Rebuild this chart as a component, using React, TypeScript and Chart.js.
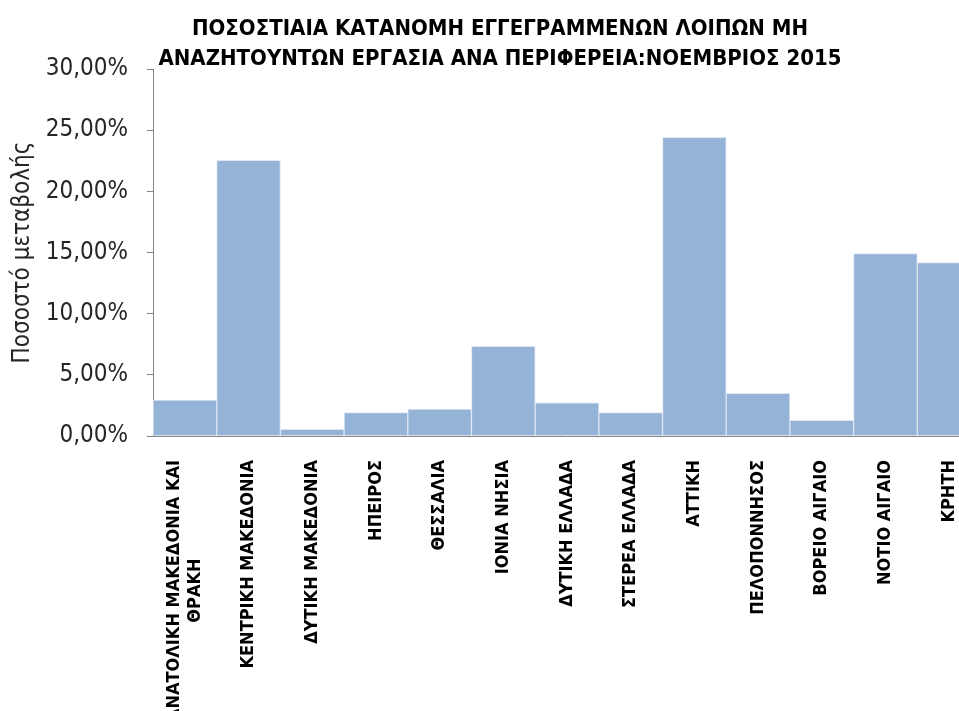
import React, { useEffect, useRef } from "react";
import { Chart, registerables } from "chart.js";

Chart.register(...registerables);

const titleLines = [
  "ΠΟΣΟΣΤΙΑΙΑ ΚΑΤΑΝΟΜΗ ΕΓΓΕΓΡΑΜΜΕΝΩΝ ΛΟΙΠΩΝ ΜΗ",
  "ΑΝΑΖΗΤΟΥΝΤΩΝ ΕΡΓΑΣΙΑ ΑΝΑ ΠΕΡΙΦΕΡΕΙΑ:ΝΟΕΜΒΡΙΟΣ 2015",
];
const yAxisTitle = "Ποσοστό μεταβολής";
const regions: string[][] = [
  ["ΑΝΑΤΟΛΙΚΗ ΜΑΚΕΔΟΝΙΑ ΚΑΙ", "ΘΡΑΚΗ"],
  ["ΚΕΝΤΡΙΚΗ ΜΑΚΕΔΟΝΙΑ"],
  ["ΔΥΤΙΚΗ ΜΑΚΕΔΟΝΙΑ"],
  ["ΗΠΕΙΡΟΣ"],
  ["ΘΕΣΣΑΛΙΑ"],
  ["ΙΟΝΙΑ ΝΗΣΙΑ"],
  ["ΔΥΤΙΚΗ ΕΛΛΑΔΑ"],
  ["ΣΤΕΡΕΑ ΕΛΛΑΔΑ"],
  ["ΑΤΤΙΚΗ"],
  ["ΠΕΛΟΠΟΝΝΗΣΟΣ"],
  ["ΒΟΡΕΙΟ ΑΙΓΑΙΟ"],
  ["ΝΟΤΙΟ ΑΙΓΑΙΟ"],
  ["ΚΡΗΤΗ"],
];
const shares = [2.94, 22.54, 0.55, 1.91, 2.21, 7.33, 2.72, 1.91, 24.42, 3.49, 1.28, 14.91, 14.17];
const yMin = 0;
const yMax = 30;
const yStep = 5;

const CANVAS_W = 981;
const CANVAS_H = 760;
const PLOT_LEFT = 153;
const PLOT_TOP = 69;
const PLOT_BOTTOM = 436;
const FONT = "'DejaVu Sans Condensed', 'DejaVu Sans', 'Noto Sans', sans-serif";
const LABEL_FONT_SIZE = 18;
const LABEL_GAP = 24;

const titlePlugin = {
  id: "twoLineTitle",
  afterDraw(chart: any) {
    const ctx = chart.ctx;
    ctx.save();
    ctx.fillStyle = "#000000";
    ctx.font = `bold 22px ${FONT}`;
    ctx.textAlign = "center";
    ctx.textBaseline = "alphabetic";
    ctx.fillText(titleLines[0], 500, 35);
    ctx.fillText(titleLines[1], 500, 65);
    ctx.restore();
  },
};

const categoryLabelPlugin = {
  id: "categoryLabels",
  afterDraw(chart: any) {
    const scale = chart.scales.x;
    const ctx = chart.ctx;
    const lineHeight = LABEL_FONT_SIZE * 1.2;
    ctx.save();
    ctx.fillStyle = "#000000";
    ctx.font = `bold ${LABEL_FONT_SIZE}px ${FONT}`;
    ctx.textAlign = "center";
    ctx.textBaseline = "middle";
    const top = scale.top + LABEL_GAP;
    regions.forEach((lines, i) => {
      const x = scale.getPixelForTick(i);
      const widest = Math.max(...lines.map((l) => ctx.measureText(l).width));
      const n = lines.length;
      lines.forEach((line, j) => {
        ctx.save();
        ctx.translate(x + (j - (n - 1) / 2) * lineHeight, top + widest / 2);
        ctx.rotate(-Math.PI / 2);
        ctx.fillText(line, 0, 0);
        ctx.restore();
      });
    });
    ctx.restore();
  },
};

export default function App() {
  const ref = useRef<HTMLCanvasElement | null>(null);
  useEffect(() => {
    if (!ref.current) return;
    const chart = new Chart(ref.current, {
      type: "bar",
      data: {
        labels: regions.map((l) => l.join(" ")),
        datasets: [
          {
            data: shares,
            backgroundColor: "#95B3D7",
            borderColor: "#DCE6F2",
            borderWidth: 1,
            categoryPercentage: 1,
            barPercentage: 1,
          },
        ],
      },
      options: {
        animation: false,
        responsive: false,
        devicePixelRatio: 1,
        layout: { padding: { top: PLOT_TOP, left: 0, right: 0, bottom: 0 } },
        plugins: { legend: { display: false }, tooltip: { enabled: false }, title: { display: false } },
        scales: {
          x: {
            grid: { display: true, drawOnChartArea: false, drawTicks: false },
            border: { display: true, color: "#868686", width: 1 },
            ticks: { display: false, autoSkip: false },
            afterFit(scale: any) {
              scale.height = CANVAS_H - PLOT_BOTTOM;
            },
          },
          y: {
            min: yMin,
            max: yMax,
            grid: { display: true, drawOnChartArea: false, drawTicks: true, tickLength: 6, color: "#868686" },
            border: { display: true, color: "#868686", width: 1 },
            ticks: {
              stepSize: yStep,
              padding: 19,
              color: "#262626",
              font: { family: FONT, size: 24 },
              callback: (v: any) => Number(v).toFixed(2).replace(".", ",") + "%",
            },
            title: {
              display: true,
              text: yAxisTitle,
              color: "#262626",
              font: { family: FONT, size: 24 },
              padding: { top: 8, bottom: 0 },
            },
            afterFit(scale: any) {
              scale.width = PLOT_LEFT;
            },
          },
        },
      },
      plugins: [titlePlugin, categoryLabelPlugin],
    });
    return () => chart.destroy();
  }, []);
  return (
    <div style={{ position: "fixed", left: 0, top: 0, width: 959, height: 711, overflow: "hidden", background: "#fff" }}>
      <canvas ref={ref} width={CANVAS_W} height={CANVAS_H} style={{ width: CANVAS_W, height: CANVAS_H, display: "block" }} />
    </div>
  );
}
